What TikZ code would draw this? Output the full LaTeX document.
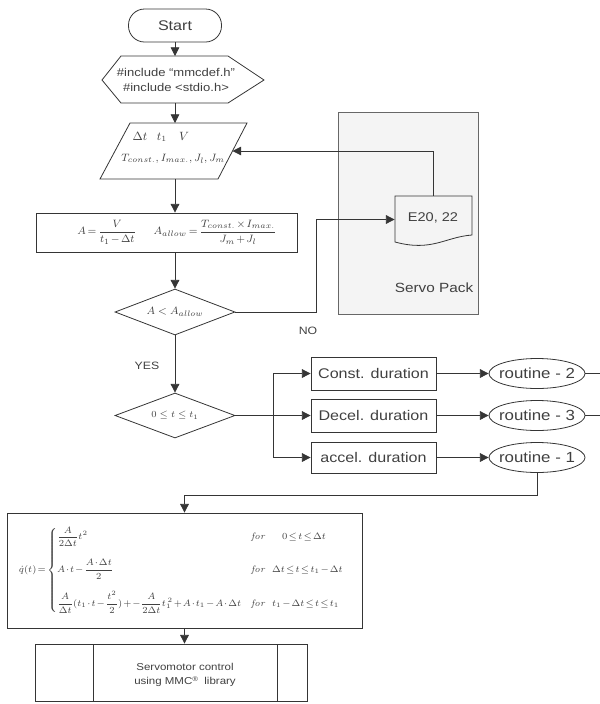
\documentclass[tikz,border=0pt]{standalone}
\usepackage{amsmath}
\usepackage[no-math]{fontspec}
\setmainfont{Liberation Sans}[FakeStretch=1.15]
\usetikzlibrary{arrows.meta,shapes.geometric}
\definecolor{ln}{HTML}{353535}
\definecolor{tx}{HTML}{404040}
\definecolor{pack}{HTML}{F4F4F4}
\begin{document}
\begin{tikzpicture}[x=0.75pt,y=-0.75pt,line width=0.6pt,color=ln,
  every node/.style={text=tx},
  arr/.style={-{Triangle[length=6.5pt,width=6.5pt]}},
  box/.style={draw=ln,rectangle,inner sep=1pt},
  lbl/.style={font=\fontsize{10.5}{12}\selectfont},
  rlbl/.style={font=\fontsize{11}{13}\selectfont},
  routine/.style={draw=ln,ellipse,minimum width=72pt,minimum height=22.5pt,inner sep=0pt},
  decision/.style={draw=ln,diamond,aspect=2.6,inner sep=0pt,minimum width=90pt,minimum height=34.5pt}]
\path[use as bounding box] (0,0) rectangle (600,704);

% Servo pack region
\draw[fill=pack,draw=ln!75] (338,112) rectangle (478,314);
\node[font=\fontsize{10}{12}\selectfont] (sp) at (434,288) {Servo Pack};

% Start
\node[box,rounded corners=12pt,minimum width=69.75pt,minimum height=24.75pt,font=\fontsize{10.5}{13}\selectfont] (start) at (175,25.5) {Start};

% hexagon
\draw (102,80) -- (121,56) -- (228,56) -- (264,80) -- (228,103) -- (121,103) -- cycle;
\coordinate (hexN) at (175,56);
\coordinate (hexS) at (175,103);
\node[align=center,font=\fontsize{8.5}{11}\selectfont] (hex) at (176,80) {\#include “mmcdef.h”\\\#include <stdio.h>};

% parallelogram
\draw (130,123) -- (247,123) -- (218,179) -- (100,179) -- cycle;
\coordinate (parN) at (175,123);
\coordinate (parS) at (175,179);
\coordinate (parE) at (232.5,151);
\node[font=\small] (p1a) at (140,136) {$\Delta t$};
\node[font=\small] (p1b) at (162,137) {$t_1$};
\node[font=\small] (p1c) at (184,136) {$V$};
\node[anchor=west,font=\footnotesize,inner sep=0pt] (p2) at (121,159) {$T_{const.}{,}\,I_{max.}{,}\,J_l{,}\,J_m$};

% box A
\node[box,minimum width=195.75pt,minimum height=29.25pt] (boxA) at (166.5,232.5) {};
\node[font=\footnotesize] (boxAt) at (177,232.5) {\thickmuskip=3mu\medmuskip=2mu$A=\dfrac{V}{t_1-\Delta t}\quad\ \ A_{allow}=\dfrac{T_{const.}\times I_{max.}}{J_m+J_l}$};

% decisions
\node[decision,font=\footnotesize] (d1) at (175,312) {$A<A_{allow}$};
\node[decision,minimum height=33.75pt,font=\fontsize{7.5}{9}\selectfont] (d2) at (175,415.5) {$0\le t\le t_1$};
\node[font=\fontsize{8}{9}\selectfont] (no) at (308,331) {NO};
\node[font=\fontsize{8}{9}\selectfont] (yes) at (147,366) {YES};

% E20 document
\draw (395,196) -- (472,196) -- (472,235) .. controls (445,237) and (432,252) .. (395,242) -- cycle;
\node[minimum width=57.75pt,minimum height=35.25pt,inner sep=0pt] (e20) at (433.5,219.5) {};
\node[font=\fontsize{9.5}{11}\selectfont] (e20t) at (433,218) {E20, 22};

% duration boxes
\node[box,lbl,minimum width=93.75pt,minimum height=24.75pt] (cd) at (373.5,373.5) {Const. duration};
\node[box,lbl,minimum width=93.75pt,minimum height=24.75pt] (dd) at (373.5,415.5) {Decel. duration};
\node[box,lbl,minimum width=93.75pt,minimum height=23.25pt] (ad) at (373.5,457.5) {accel. duration};

% routines
\node[routine] (r2) at (537,373.5) {};
\node[rlbl] (r2t) at (537,373.5) {routine - 2};
\node[routine] (r3) at (537,415.5) {};
\node[rlbl] (r3t) at (537,415.5) {routine - 3};
\node[routine] (r1) at (537,457.5) {};
\node[rlbl] (r1t) at (537,457.5) {routine - 1};

% equation box
\node[box,minimum width=266.25pt,minimum height=86.25pt] (eq) at (184.5,570.5) {};
\node[anchor=west,font=\fontsize{7.5}{9}\selectfont] (eqt) at (14,570) {\thickmuskip=2mu\medmuskip=1.5mu$\dot q(t)=\begin{cases}
\dfrac{A}{2\Delta t}t^2 & \mathit{for}\quad\ \ 0\le t\le \Delta t\\[11pt]
A\cdot t-\dfrac{A\cdot\Delta t}{2} & \mathit{for}\ \ \Delta t\le t\le t_1-\Delta t\\[11pt]
\dfrac{A}{\Delta t}(t_1\cdot t-\dfrac{t^2}{2})+-\dfrac{A}{2\Delta t}t_1^{\,2}+A\cdot t_1-A\cdot\Delta t & \mathit{for}\ \ t_1-\Delta t\le t\le t_1
\end{cases}$};

% predefined process
\node[box,minimum width=204pt,minimum height=42.75pt] (pre) at (171,672.5) {};
\draw (93,644) -- (93,701);
\draw (277,644) -- (277,701);
\node[align=center,font=\fontsize{7.5}{10}\selectfont] (pret) at (185,675) {Servomotor control\\using MMC\raisebox{0.5ex}{\tiny ®}\ \ library};

% connectors
\draw[arr] (start.south) -- (hexN);
\draw[arr] (hexS) -- (parN);
\draw[arr] (parS) -- (parS |- boxA.north);
\draw[arr] (parS |- boxA.south) -- (d1.north);
\draw[arr] (d1.south) -- (d2.north);
\coordinate (noturn) at (316,312);
\draw[arr] (d1.east) -- (noturn) |- (e20.west);
\draw[arr] (e20.north) |- (parE);
\coordinate (br) at (273,415.5);
\draw[arr] (d2.east) -- (dd.west);
\draw[arr] (br) |- (cd.west);
\draw[arr] (br) |- (ad.west);
\draw[arr] (cd.east) -- (r2.west);
\draw[arr] (dd.east) -- (r3.west);
\draw[arr] (ad.east) -- (r1.west);
\coordinate (r2out) at (600,373.5);
\coordinate (r3out) at (600,415.5);
\draw (r2.east) -- (r2out);
\draw (r3.east) -- (r3out);
\coordinate (j1) at (537,495);
\draw[arr] (r1.south) -- (j1) -| (eq.north);
\draw[arr] (eq.south) -- (eq.south |- pre.north);
\end{tikzpicture}
\end{document}
